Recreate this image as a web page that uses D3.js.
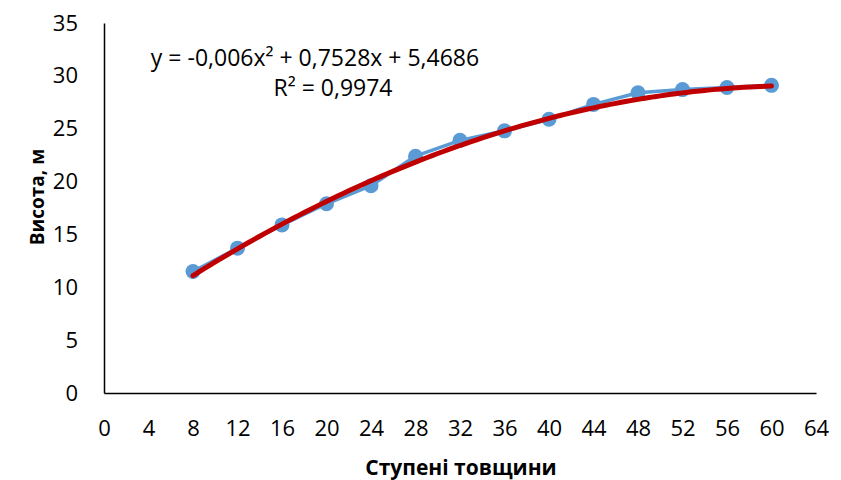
<!DOCTYPE html>
<html>
<head>
<meta charset="utf-8">
<script src="https://cdn.jsdelivr.net/npm/d3@7"></script>
<style>
  body { margin: 0; background: #fff; }
  text { font-family: "Open Sans", "Noto Sans", sans-serif; fill: #000; }
</style>
</head>
<body>
<div id="chart"></div>
<script>
var width = 841;
var height = 480;

// data
var thickness = [8, 12, 16, 20, 24, 28, 32, 36, 40, 44, 48, 52, 56, 60];
var heights = [11.5, 13.7, 15.9, 17.9, 19.6, 22.4, 23.9, 24.8, 25.9, 27.3, 28.4, 28.7, 28.9, 29.1];
var xTicks = [0, 4, 8, 12, 16, 20, 24, 28, 32, 36, 40, 44, 48, 52, 56, 60, 64];
var yTicks = [0, 5, 10, 15, 20, 25, 30, 35];
// trend line y = a*x^2 + b*x + c
var trendCoef = [-0.006, 0.7528, 5.4686];
var equationText = "y = -0,006x² + 0,7528x + 5,4686";
var r2Text = "R² = 0,9974";

var margin = {left: 104, right: 25, top: 23, bottom: 87};

var x = d3.scaleLinear()
  .domain([0, 64])
  .range([margin.left, width - margin.right]);

var y = d3.scaleLinear()
  .domain([0, 35])
  .range([height - margin.bottom, margin.top]);

var svg = d3.select("#chart")
  .append("svg")
  .attr("width", width)
  .attr("height", height);

// x axis
var xAxis = svg.append("g")
  .attr("transform", `translate(0,${y(0)})`)
  .call(d3.axisBottom(x).tickValues(xTicks).tickSize(0).tickPadding(27));
xAxis.select(".domain").attr("stroke", "#000").attr("stroke-width", 1.5);
xAxis.selectAll("text").style("font-size", "22px").attr("font-family", null);

// y axis
var yAxis = svg.append("g")
  .attr("transform", `translate(${x(0)},0)`)
  .call(d3.axisLeft(y).tickValues(yTicks).tickSize(0).tickPadding(26));
yAxis.select(".domain").attr("stroke", "#000").attr("stroke-width", 1.5);
yAxis.selectAll("text").style("font-size", "22px").attr("font-family", null);

// data line
var line = d3.line()
  .x((d, i) => x(thickness[i]))
  .y(d => y(d));

svg.append("path")
  .datum(heights)
  .attr("fill", "none")
  .attr("stroke", "#5B9BD5")
  .attr("stroke-width", 3.5)
  .attr("d", line);

svg.selectAll(".dot")
  .data(heights)
  .join("circle")
  .attr("class", "dot")
  .attr("cx", (d, i) => x(thickness[i]))
  .attr("cy", d => y(d))
  .attr("r", 7.5)
  .attr("fill", "#5B9BD5");

// polynomial trend line
var trendX = d3.range(thickness[0], thickness[thickness.length - 1] + 0.01, 0.5);
var trendLine = d3.line()
  .x(d => x(d))
  .y(d => y(trendCoef[0] * d * d + trendCoef[1] * d + trendCoef[2]))
  .curve(d3.curveBasis);

svg.append("path")
  .datum(trendX)
  .attr("fill", "none")
  .attr("stroke", "#C00000")
  .attr("stroke-width", 5)
  .attr("stroke-linecap", "round")
  .attr("d", trendLine);

// trend equation
svg.append("text")
  .attr("x", 315)
  .attr("y", 66)
  .attr("text-anchor", "middle")
  .style("font-size", "23px")
  .text(equationText);

svg.append("text")
  .attr("x", 333)
  .attr("y", 96)
  .attr("text-anchor", "middle")
  .style("font-size", "23px")
  .text(r2Text);

// axis titles
svg.append("text")
  .attr("x", 461)
  .attr("y", 475)
  .attr("text-anchor", "middle")
  .style("font-size", "21px")
  .style("font-weight", "bold")
  .text("Ступені товщини");

svg.append("text")
  .attr("transform", `translate(44,197) rotate(-90)`)
  .attr("text-anchor", "middle")
  .style("font-size", "19px")
  .style("font-weight", "bold")
  .text("Висота, м");
</script>
</body>
</html>
